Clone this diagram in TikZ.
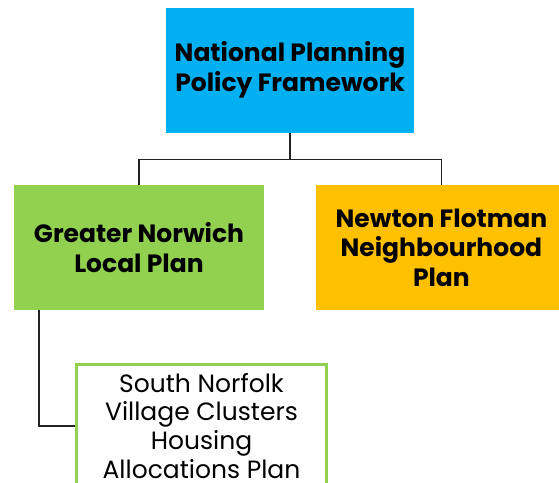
\documentclass[tikz,border=0pt]{standalone}
\usepackage{fontspec}
\setmainfont{Poppins}
\usepackage{xcolor}
\usetikzlibrary{positioning}

\definecolor{nppfblue}{HTML}{00B0F0}
\definecolor{gnlpgreen}{HTML}{92D050}
\definecolor{nfnporange}{HTML}{FFC000}
\definecolor{linkgrey}{HTML}{222222}

\begin{document}
\begin{tikzpicture}[
    x=1pt, y=1pt,
    plan/.style={rectangle, minimum width=250pt, minimum height=125pt, align=center,
        font=\fontsize{25}{29.5}\selectfont\bfseries, inner sep=0pt},
    subplan/.style={rectangle, draw=gnlpgreen, line width=2.6pt, fill=white, minimum width=250pt,
        minimum height=123pt, align=center, font=\fontsize{25}{28.8}\selectfont, inner sep=0pt},
    link/.style={draw=linkgrey, line width=1.3pt}
]
    \clip (0,0) rectangle (559,-482);
    \fill[white] (0,0) rectangle (559,-482);

    \node[plan, fill=nppfblue, minimum width=247.5pt] (nppf) at (290,-70) {National Planning\\Policy Framework};
    \node[plan, fill=gnlpgreen, below=52pt of nppf, xshift=-151pt] (gnlp) {Greater Norwich\\Local Plan};
    \node[plan, fill=nfnporange, right=52pt of gnlp] (nfnp) {Newton Flotman\\Neighbourhood\\Plan};
    \node[subplan, below=53pt of gnlp, xshift=62.5pt] (sncp) {South Norfolk\\Village Clusters\\Housing\\Allocations Plan};

    \coordinate (split) at ([yshift=-26.5pt]nppf.south);
    \draw[link] (nppf) -- (split);
    \draw[link] (split) -| (gnlp);
    \draw[link] (split) -| (nfnp);
    \draw[link] ([xshift=-100pt]gnlp.south) |- (sncp.west);
\end{tikzpicture}
\end{document}
